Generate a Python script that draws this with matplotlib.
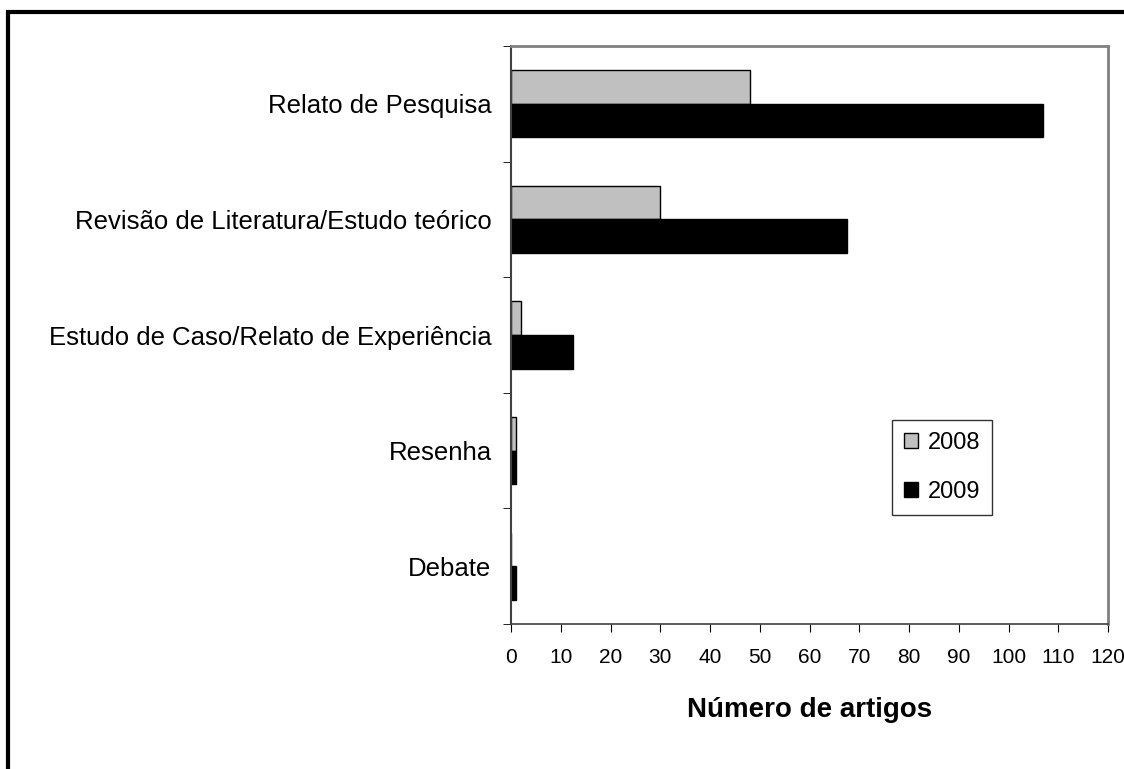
import matplotlib.pyplot as plt
from matplotlib.patches import Rectangle
import numpy as np

plt.rcParams['font.family'] = ['Liberation Sans', 'DejaVu Sans']

categories = ['Relato de Pesquisa',
              'Revisão de Literatura/Estudo teórico',
              'Estudo de Caso/Relato de Experiência',
              'Resenha',
              'Debate']
vals_2008 = [48, 30, 2, 1, 0]
vals_2009 = [107, 67.5, 12.5, 1, 1]
x_ticks = list(range(0, 121, 10))

fig = plt.figure(figsize=(11.24, 7.69), dpi=100)
ax = fig.add_axes([511/1124, 1 - 624/769, 597/1124, 578/769])

y = np.arange(len(categories))[::-1]
h = 0.29
ax.barh(y + h/2, vals_2008, height=h, color='#c0c0c0', edgecolor='black', linewidth=1, label='2008')
ax.barh(y - h/2, vals_2009, height=h, color='black', edgecolor='black', linewidth=1, label='2009')

ax.set_xlim(0, 120)
ax.set_ylim(-0.5, len(categories) - 0.5)
ax.set_xticks(x_ticks)
ax.set_xticklabels([str(t) for t in x_ticks], fontsize=15)
ax.set_yticks(y)
ax.set_yticklabels(categories, fontsize=18.5)
ax.set_yticks(np.arange(-0.5, len(categories)), minor=True)
ax.tick_params(axis='y', which='major', length=0, pad=14)
ax.tick_params(axis='y', which='minor', length=6, direction='out')
ax.tick_params(axis='x', length=6, direction='out', pad=11)

for s in ['top', 'right']:
    ax.spines[s].set_color('#808080')
    ax.spines[s].set_linewidth(2)
ax.spines['left'].set_color('#404040')
ax.spines['left'].set_linewidth(1.5)
ax.spines['bottom'].set_color('#404040')
ax.spines['bottom'].set_linewidth(1.2)

ax.set_xlabel('Número de artigos', fontsize=20, fontweight='bold', labelpad=22)

leg = ax.legend(loc='upper left', bbox_to_anchor=((892-511)/597, (624-420)/578),
                fontsize=17, frameon=True, fancybox=False, edgecolor='black',
                handlelength=0.6, handleheight=0.6, handletextpad=0.4,
                labelspacing=1.15, borderpad=0.5, borderaxespad=0)
leg.get_frame().set_linewidth(1)

fig.patches.append(Rectangle((8/1124, -0.05), 1.1, 1 - 12/769 + 0.05,
                             transform=fig.transFigure, fill=False,
                             edgecolor='black', linewidth=3))

fig.savefig('out.png', dpi=100)
